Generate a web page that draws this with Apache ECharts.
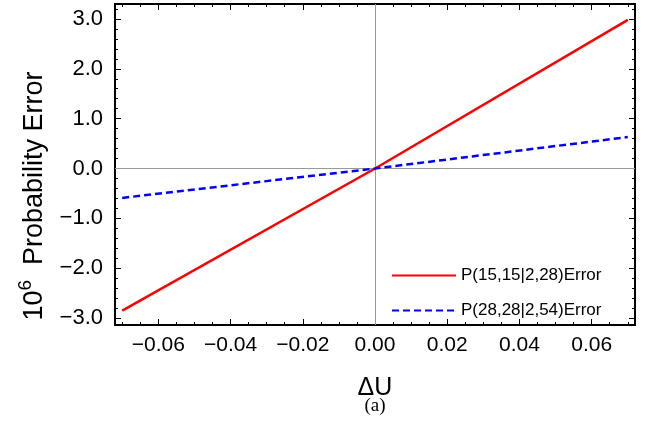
<!DOCTYPE html>
<html>
<head>
<meta charset="utf-8">
<script src="https://cdn.jsdelivr.net/npm/echarts@6/dist/echarts.min.js"></script>
<style>
  html, body { margin: 0; padding: 0; background: #fff; }
  #chart { width: 666px; height: 429px; }
</style>
</head>
<body>
<div id="chart"></div>
<script>
// values
const deltaU = [-0.07, 0, 0.07]
const errA = [-2.85, 0, 2.98]   // P(15,15|2,28)Error
const errB = [-0.59, 0, 0.63]   // P(28,28|2,54)Error
const seriesNames = ['P(15,15|2,28)Error', 'P(28,28|2,54)Error']

const xMajor = [-0.06, -0.04, -0.02, 0, 0.02, 0.04, 0.06]
const yMajor = [-3, -2, -1, 0, 1, 2, 3]

// minor ticks between the major ones
const xMinor = []
for (let i = -14; i <= 14; i++) {
    if (i % 4 !== 0) xMinor.push(i * 0.005)
}
const yMinor = []
for (let i = -15; i <= 16; i++) {
    if (i % 5 !== 0) yMinor.push(i * 0.2)
}

const font = 'Liberation Sans, Arial, sans-serif'

const fmt = (digits) => (v) => {
    const s = Math.abs(v).toFixed(digits)
    return v < -1e-9 ? '\u2212' + s : s
}

function tickAxis(position, min, max, values, len, extra) {
    return Object.assign({
        type: 'value',
        position: position,
        min: min,
        max: max,
        axisLine: { show: false, onZero: false },
        splitLine: { show: false },
        axisTick: {
            show: true,
            inside: true,
            length: len,
            customValues: values,
            lineStyle: { color: '#000', width: 1 }
        },
        axisLabel: { show: false }
    }, extra || {})
}

const xMin = -0.072, xMax = 0.072
const yMin = -3.14, yMax = 3.3

const chart = echarts.init(document.getElementById('chart'))
const option = {
    animation: false,
    backgroundColor: '#fff',
    grid: {
        left: 115,
        right: 31,
        top: 4,
        bottom: 104,
        show: true,
        borderColor: '#000',
        borderWidth: 2,
        backgroundColor: 'transparent'
    },
    legend: {
        orient: 'vertical',
        left: 386,
        top: 262,
        itemWidth: 64,
        itemHeight: 14,
        itemGap: 18,
        data: seriesNames,
        itemStyle: { opacity: 0 },
        textStyle: { fontFamily: font, fontSize: 17, color: '#000' }
    },
    xAxis: [
        tickAxis('bottom', xMin, xMax, xMajor, 6, {
            name: '\u0394U',
            nameLocation: 'middle',
            nameGap: 51,
            nameTextStyle: { fontFamily: font, fontSize: 25, color: '#000' },
            axisLabel: {
                show: true,
                customValues: xMajor,
                formatter: fmt(2),
                margin: 10,
                fontFamily: font,
                fontSize: 21,
                color: '#000'
            }
        }),
        tickAxis('bottom', xMin, xMax, xMinor, 3),
        tickAxis('top', xMin, xMax, xMajor, 6),
        tickAxis('top', xMin, xMax, xMinor, 3)
    ],
    yAxis: [
        tickAxis('left', yMin, yMax, yMajor, 6, {
            axisLabel: {
                show: true,
                customValues: yMajor,
                formatter: fmt(1),
                margin: 12,
                fontFamily: font,
                fontSize: 22,
                color: '#000'
            }
        }),
        tickAxis('left', yMin, yMax, yMinor, 3),
        tickAxis('right', yMin, yMax, yMajor, 6),
        tickAxis('right', yMin, yMax, yMinor, 3)
    ],
    graphic: [
        {
            type: 'text',
            x: 35,
            y: 196,
            rotation: Math.PI / 2,
            style: {
                text: '{n|10}{s|6}{n|  Probability Error}',
                align: 'center',
                verticalAlign: 'middle',
                fill: '#000',
                rich: {
                    n: { fontFamily: font, fontSize: 27, fill: '#000', lineHeight: 32 },
                    s: { fontFamily: font, fontSize: 19, fill: '#000', lineHeight: 32, padding: [0, 0, 18, 0] }
                }
            }
        },
        {
            type: 'text',
            x: 375,
            y: 406,
            style: {
                text: '(a)',
                align: 'center',
                verticalAlign: 'middle',
                fontFamily: 'Liberation Serif, DejaVu Serif, serif',
                fontSize: 19,
                fill: '#000'
            }
        }
    ],
    series: [
        {
            name: seriesNames[0],
            type: 'line',
            showSymbol: false,
            symbol: 'none',
            xAxisIndex: 0,
            yAxisIndex: 0,
            lineStyle: { color: '#ff0000', width: 2.5 },
            itemStyle: { color: '#ff0000' },
            data: deltaU.map((x, i) => [x, errA[i]]),
            z: 3,
            markLine: {
                silent: true,
                symbol: 'none',
                label: { show: false },
                lineStyle: { color: '#999', type: 'solid', width: 1 },
                data: [{ xAxis: 0 }, { yAxis: 0 }],
                z: 1
            }
        },
        {
            name: seriesNames[1],
            type: 'line',
            showSymbol: false,
            symbol: 'none',
            xAxisIndex: 0,
            yAxisIndex: 0,
            lineStyle: { color: '#0000ff', width: 2.5, type: [7, 4] },
            itemStyle: { color: '#0000ff' },
            data: deltaU.map((x, i) => [x, errB[i]]),
            z: 4
        }
    ]
}
chart.setOption(option)
</script>
</body>
</html>
